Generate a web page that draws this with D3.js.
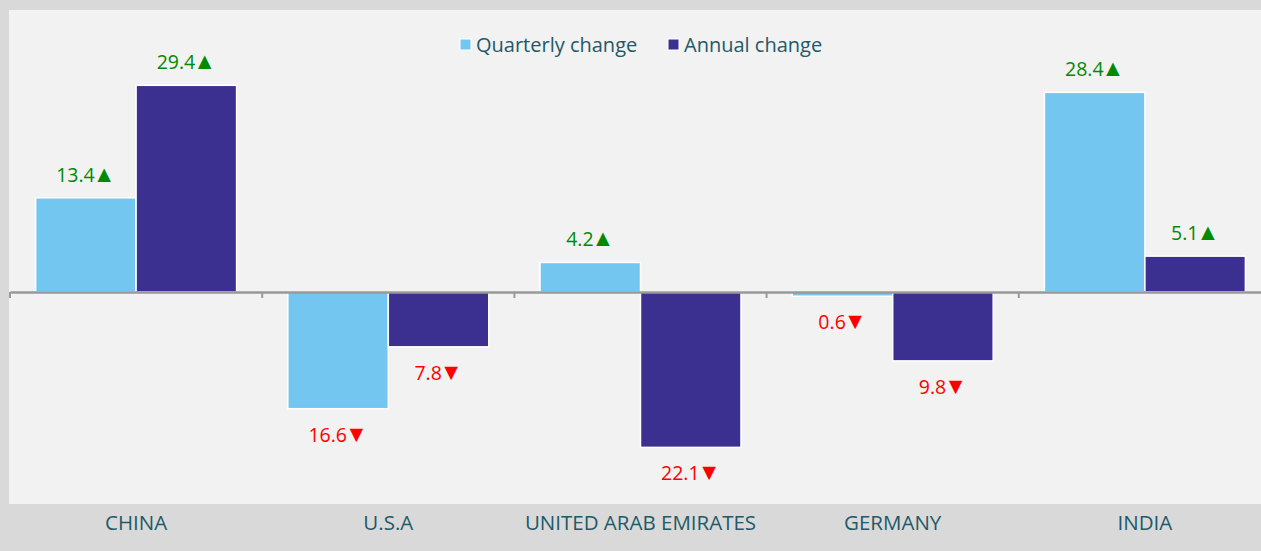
<!DOCTYPE html>
<html><head><meta charset="utf-8">
<script src="https://cdn.jsdelivr.net/npm/d3@7"></script>
<style>body{margin:0;background:#d9d9d9;}svg{display:block;}</style>
</head><body>
<svg id="c" width="1261" height="551"></svg>
<script>
const categories = ["CHINA","U.S.A","UNITED ARAB EMIRATES","GERMANY","INDIA"];
const seriesNames = ["Quarterly change","Annual change"];
const quarterly = [13.4,-16.6,4.2,-0.6,28.4];
const annual = [29.4,-7.8,-22.1,-9.8,5.1];
const colors = ["#73c6f0","#3b2f8f"];

const svg = d3.select("#c");
const font = "'Open Sans', sans-serif";
const textColor = "#215968";
svg.append("rect").attr("x",0).attr("y",0).attr("width",1261).attr("height",551).attr("fill","#d9d9d9");
svg.append("rect").attr("x",9).attr("y",10).attr("width",1252).attr("height",494).attr("fill","#f2f2f2");

const x = d3.scaleBand().domain(categories).range([10,1271]).paddingInner(0).paddingOuter(0);
const x1 = d3.scaleBand().domain(seriesNames).range([0,x.bandwidth()]).paddingInner(0).paddingOuter(0.255);
const y = d3.scaleLinear().domain([-30,30]).range([292+30*7.03, 292-30*7.03]);

const data = categories.map((c,i)=>({cat:c, vals:[{s:seriesNames[0],v:quarterly[i]},{s:seriesNames[1],v:annual[i]}]}));

const g = svg.append("g");
const groups = g.selectAll("g.grp").data(data).join("g").attr("transform",d=>`translate(${x(d.cat)},0)`);
groups.selectAll("rect").data(d=>d.vals).join("rect")
  .attr("x",d=>x1(d.s)).attr("width",x1.bandwidth())
  .attr("y",d=>y(Math.max(0,d.v))).attr("height",d=>Math.abs(y(d.v)-y(0)))
  .attr("fill",(d,i)=>colors[i]).attr("stroke","#ffffff").attr("stroke-width",1.5);

const lbl = groups.selectAll("text.lbl").data(d=>d.vals).join("text").attr("class","lbl")
  .attr("x",d=>x1(d.s)+x1.bandwidth()/2)
  .attr("y",d=>d.v>=0 ? y(d.v)-16 : y(d.v)+33)
  .attr("text-anchor","middle").attr("font-family",font).attr("font-size",19.5)
  .attr("fill",d=>d.v>=0?"#008a00":"#ff0000");
lbl.append("tspan").text(d=>Math.abs(d.v).toFixed(1));
lbl.append("tspan").attr("font-size",23).attr("dx",-2).text(d=>d.v>=0?"▲":"▼");

// axis
const axis = d3.axisBottom(x).tickSize(6).tickSizeOuter(0).tickFormat("");
const ag = svg.append("g").attr("transform",`translate(0,${y(0)})`).call(axis);
ag.select(".domain").attr("stroke","#999").attr("stroke-width",2.5);
ag.selectAll(".tick line").attr("stroke","#999").attr("stroke-width",2).attr("transform",`translate(${-x.bandwidth()/2},0)`);
// category labels
svg.append("g").selectAll("text").data(categories).join("text")
  .attr("x",d=>x(d)+x.bandwidth()/2).attr("y",530)
  .attr("text-anchor","middle").attr("font-family",font).attr("font-size",20.5)
  .attr("fill",textColor).text(d=>d);

// legend
const leg = svg.append("g");
const legItems = [{n:seriesNames[0],c:colors[0],x:460},{n:seriesNames[1],c:colors[1],x:668}];
legItems.forEach(it=>{
  leg.append("rect").attr("x",it.x).attr("y",39).attr("width",11).attr("height",11).attr("fill",it.c).attr("stroke","#fff").attr("stroke-width",1);
  leg.append("text").attr("x",it.x+16).attr("y",52).attr("font-family",font).attr("font-size",20).attr("fill",textColor).text(it.n);
});
</script>
</body></html>
